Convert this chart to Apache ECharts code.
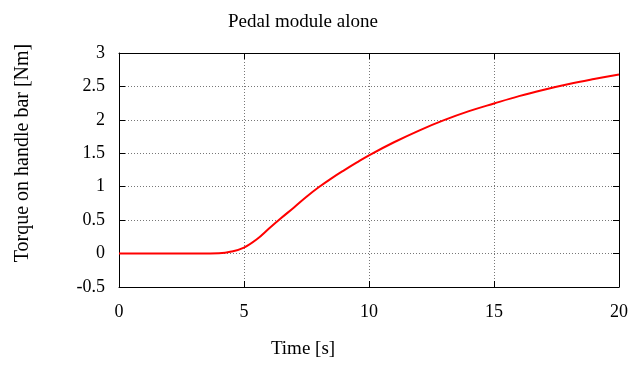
<!DOCTYPE html>
<html><head><meta charset="utf-8">
<script src="https://cdn.jsdelivr.net/npm/echarts@6/dist/echarts.min.js"></script>
<style>html,body{margin:0;padding:0;background:#fff}#c{width:637px;height:367px}</style>
</head><body><div id="c"></div>
<script>
const titleText = "Pedal module alone";
const xName = "Time [s]";
const yName = "Torque on handle bar [Nm]";
const timeS = [0,1,2,3,3.5,4,4.5,5,5.5,6,6.5,7,7.5,8,8.5,9,9.5,10,11,12,13,14,15,16,17,18,19,20];
const torque = [0,0,0,0,0.001,0.004,0.03,0.09,0.21,0.375,0.535,0.69,0.85,0.995,1.125,1.245,1.36,1.47,1.665,1.84,1.995,2.13,2.245,2.355,2.45,2.535,2.61,2.68];
const xTicks = [0,20,5];
const yTicks = [-0.5,3,0.5];

const font = "'Liberation Serif','DejaVu Serif',serif";
const chart = echarts.init(document.getElementById('c'), null, {renderer:'canvas'});
const gridLine = {show:true, lineStyle:{color:'#777', type:[1,2], width:1}};
const tick = {show:true, inside:true, length:6, lineStyle:{color:'#000'}};
const line = {show:true, onZero:false, lineStyle:{color:'#000', width:1}};
chart.setOption({
  animation:false,
  title:{text:titleText, left:223, top:8,
    textStyle:{fontFamily:font, fontSize:19, fontWeight:'normal', color:'#000'}},
  grid:{left:119, right:18, top:53, bottom:80},
  xAxis:[{type:'value', min:xTicks[0], max:xTicks[1], interval:xTicks[2],
    name:xName, nameLocation:'middle', nameGap:53,
    nameTextStyle:{fontFamily:font, fontSize:19, color:'#000', padding:[0,0,0,-132]},
    axisLine:line, axisTick:tick,
    axisLabel:{fontFamily:font, fontSize:18, color:'#000', margin:16},
    splitLine:gridLine},
   {type:'value', position:'top', min:xTicks[0], max:xTicks[1], interval:xTicks[2],
    axisLine:line, axisTick:tick, axisLabel:{show:false}, splitLine:{show:false}}],
  yAxis:[{type:'value', min:yTicks[0], max:yTicks[1], interval:yTicks[2],
    name:yName, nameLocation:'middle', nameGap:86, nameRotate:90,
    nameTextStyle:{fontFamily:font, fontSize:20, color:'#000', padding:[0,0,0,34]},
    axisLine:line, axisTick:tick,
    axisLabel:{fontFamily:font, fontSize:18, color:'#000', margin:14},
    splitLine:gridLine},
   {type:'value', position:'right', min:yTicks[0], max:yTicks[1], interval:yTicks[2],
    axisLine:line, axisTick:tick, axisLabel:{show:false}, splitLine:{show:false}}],
  series:[{type:'line', data:timeS.map((t,i)=>[t,torque[i]]), smooth:0.4,
    showSymbol:false, lineStyle:{color:'#ff0000', width:2}}]
});
</script></body></html>
